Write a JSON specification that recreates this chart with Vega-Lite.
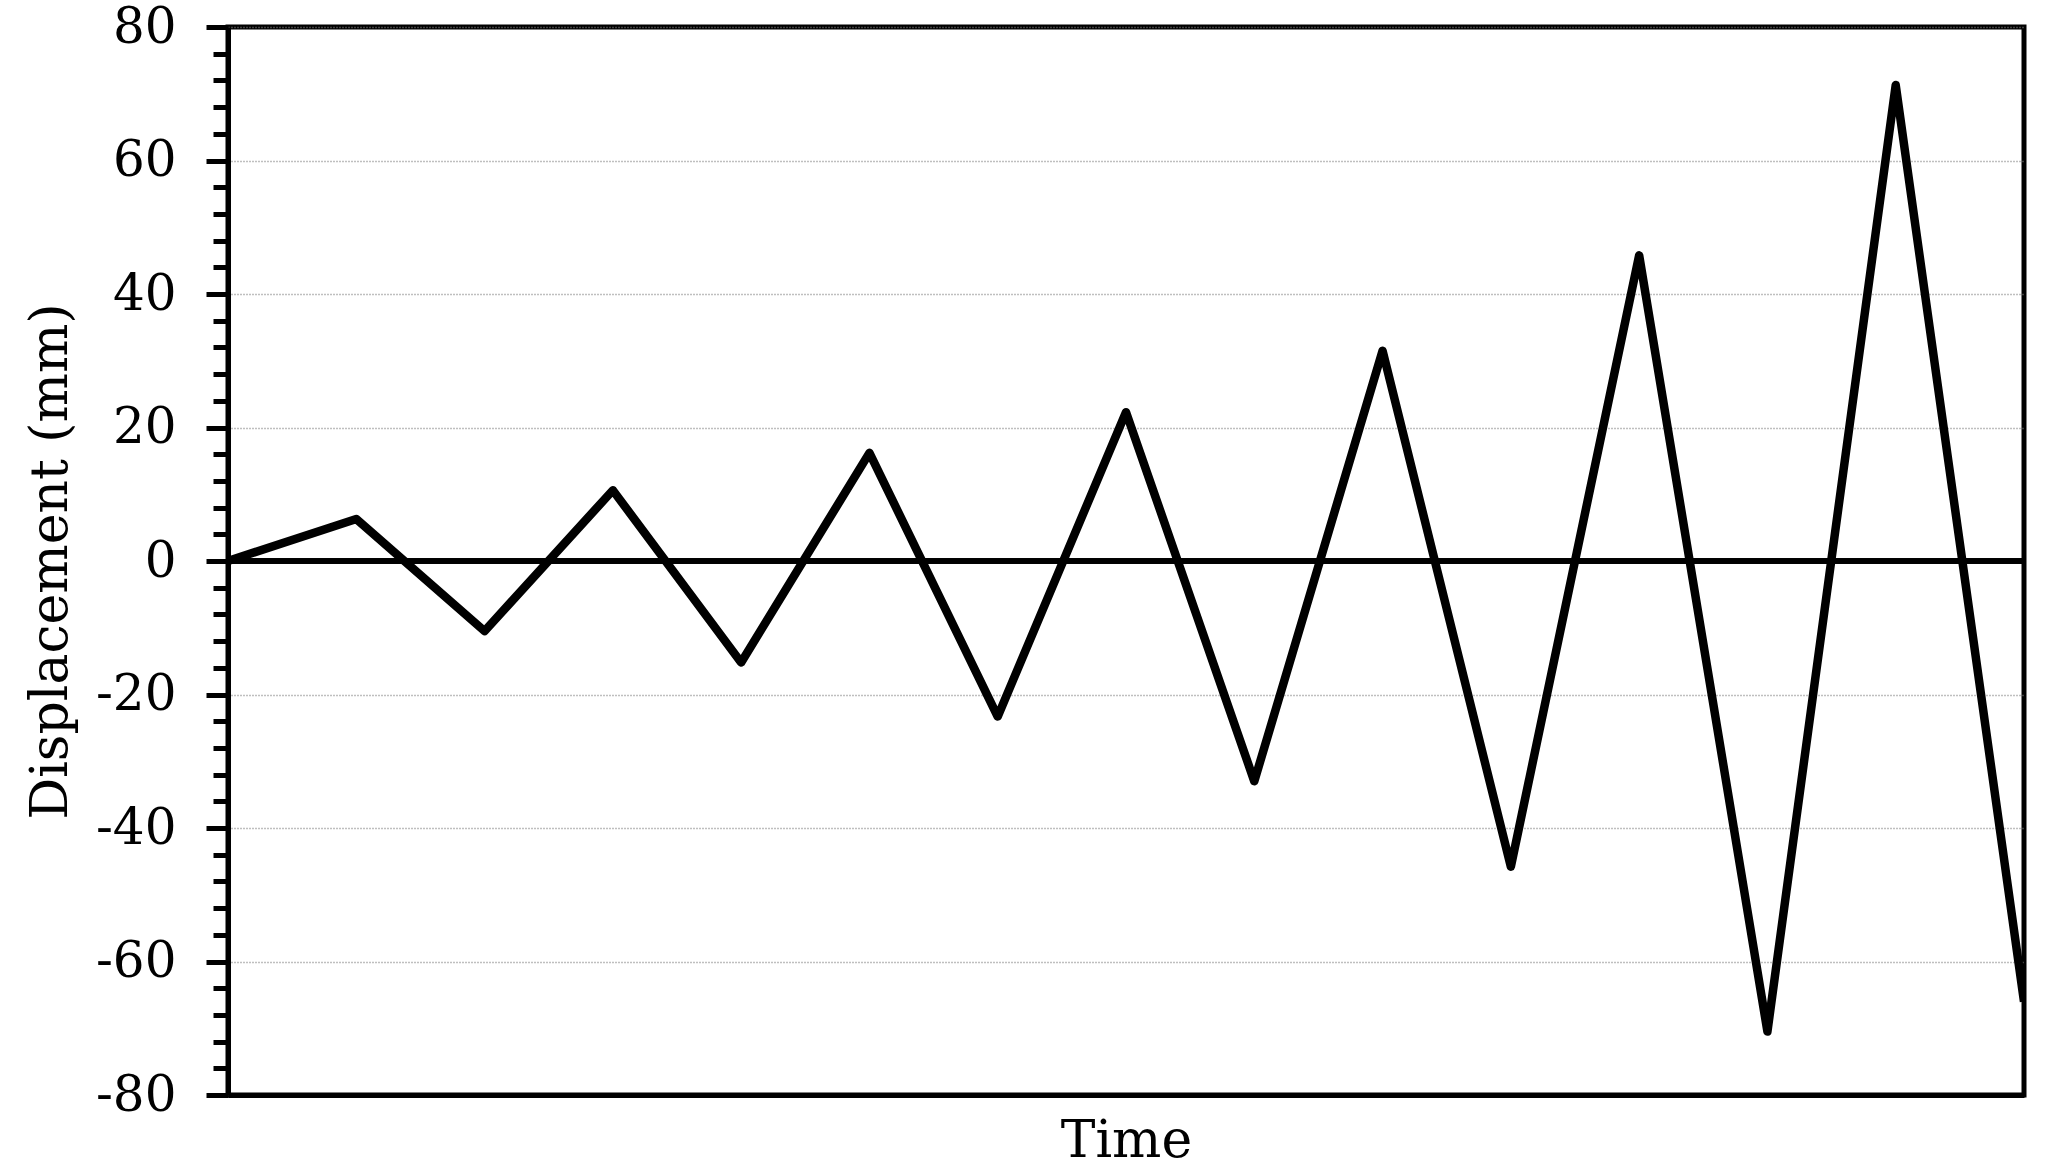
{
  "$schema": "https://vega.github.io/schema/vega-lite/v6.json",
  "autosize": {"type": "none"},
  "padding": {"left": 228, "top": 27, "right": 41, "bottom": 79},
  "width": 1796,
  "height": 1068,
  "background": "white",
  "config": {
    "view": {"stroke": "black", "strokeWidth": 5},
    "font": "DejaVu Serif"
  },
  "data": {
    "values": [
      {"t": 0, "d": 0},
      {"t": 1, "d": 6.3},
      {"t": 2, "d": -10.5},
      {"t": 3, "d": 10.6},
      {"t": 4, "d": -15.2},
      {"t": 5, "d": 16.2},
      {"t": 6, "d": -23.3},
      {"t": 7, "d": 22.3},
      {"t": 8, "d": -33},
      {"t": 9, "d": 31.5},
      {"t": 10, "d": -45.8},
      {"t": 11, "d": 45.8},
      {"t": 12, "d": -70.5},
      {"t": 13, "d": 71.3},
      {"t": 14, "d": -66}
    ]
  },
  "layer": [
    {
      "mark": {"type": "rule", "color": "black", "strokeWidth": 4.5},
      "encoding": {"y": {"datum": 0, "type": "quantitative"}}
    },
    {
      "mark": {"type": "line", "color": "black", "strokeWidth": 8.5, "strokeJoin": "round", "clip": true},
      "encoding": {
        "x": {
          "field": "t",
          "type": "quantitative",
          "scale": {"domain": [0, 14], "nice": false, "zero": false},
          "axis": {
            "title": "Time",
            "titleFontSize": 52,
            "titleFontWeight": "normal",
            "titleColor": "black",
            "titlePadding": 20,
            "labels": false,
            "ticks": false,
            "grid": false,
            "domain": true,
            "domainColor": "black",
            "domainWidth": 5
          }
        },
        "y": {
          "field": "d",
          "type": "quantitative",
          "scale": {"domain": [-80, 80], "nice": false},
          "axis": {
            "title": "Displacement (mm)",
            "titleFontSize": 52,
            "titleFontWeight": "normal",
            "titleColor": "black",
            "titlePadding": 18,
            "tickCount": 200,
            "values": [-80, -76, -72, -68, -64, -60, -56, -52, -48, -44, -40, -36, -32, -28, -24, -20, -16, -12, -8, -4, 0, 4, 8, 12, 16, 20, 24, 28, 32, 36, 40, 44, 48, 52, 56, 60, 64, 68, 72, 76, 80],
            "labelExpr": "datum.value % 20 === 0 ? toString(datum.value) : ''",
            "labelOverlap": false,
            "labelFlush": false,
            "labelFontSize": 50,
            "labelColor": "black",
            "labelPadding": 30,
            "tickColor": "black",
            "tickWidth": 5,
            "tickSize": {"condition": {"test": "datum.value % 20 === 0", "value": 22}, "value": 15},
            "domainColor": "black",
            "domainWidth": 5,
            "grid": true,
            "gridColor": "#808080",
            "gridWidth": 1.5,
            "gridDash": [1, 2],
            "gridOpacity": {"condition": {"test": "datum.value % 20 === 0 && datum.value !== 0", "value": 1}, "value": 0}
          }
        }
      }
    }
  ]
}
